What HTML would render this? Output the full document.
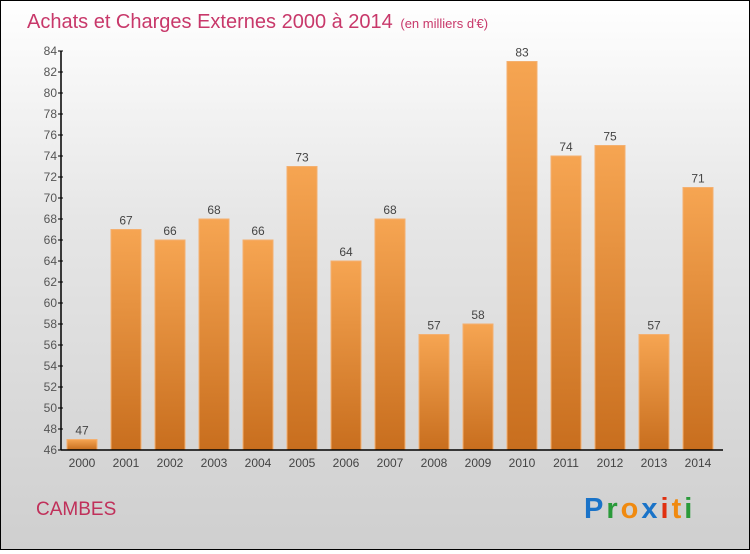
<!DOCTYPE html>
<html><head><meta charset="utf-8"><style>
body{margin:0;width:750px;height:550px;overflow:hidden}
#c{position:relative;width:748px;height:548px;border:1px solid #000;background:linear-gradient(#fff,#e6e6e6 40%,#cfcfcf);font-family:"Liberation Sans",sans-serif}
</style></head><body>
<div id="c">
<svg width="748" height="548" id="s">
<defs><linearGradient id="g" x1="0" y1="0" x2="0" y2="1"><stop offset="0" stop-color="#f6a552"/><stop offset="1" stop-color="#c86e1e"/></linearGradient></defs>
<text x="26" y="27" font-size="20" fill="#c8386a">Achats et Charges Externes 2000 à 2014 <tspan font-size="13" dx="2">(en milliers d'€)</tspan></text>
<text x="35" y="514" font-size="19" fill="#c0305a">CAMBES</text>
<text x="583" y="517" font-size="29" font-weight="bold" letter-spacing="3"><tspan fill="#1a73c8">P</tspan><tspan fill="#2a9a3a">r</tspan><tspan fill="#f08a10">o</tspan><tspan fill="#1a73c8">x</tspan><tspan fill="#e03010">i</tspan><tspan fill="#f08a10">t</tspan><tspan fill="#2a9a3a">i</tspan></text>
</svg></div>
<script>
const years=["2000","2001","2002","2003","2004","2005","2006","2007","2008","2009","2010","2011","2012","2013","2014"];
const values=[47,67,66,68,66,73,64,68,57,58,83,74,75,57,71];
const yTicks=[46,48,50,52,54,56,58,60,62,64,66,68,70,72,74,76,78,80,82,84];
const ns="http://www.w3.org/2000/svg",s=document.getElementById('s');
const y=v=>449-(v-46)*399/38, x=i=>81+i*44;
function mk(t,a,txt){const e=document.createElementNS(ns,t);for(const k in a)e.setAttribute(k,a[k]);if(txt!=null)e.textContent=txt;s.appendChild(e);return e;}
values.forEach((v,i)=>{
 const r=mk('rect',{x:x(i)-15,y:y(v),width:30,height:y(46)-y(v),fill:'url(#g)',stroke:'#f4b070','stroke-width':1});
 
 
 const t=mk('text',{x:x(i),y:y(v)-5,'font-size':12,fill:'#444','text-anchor':'middle'},v);
 
 
 const l=mk('text',{x:x(i),y:466,'font-size':12,fill:'#444','text-anchor':'middle'},years[i]);
 
 
});
yTicks.forEach(v=>{
 mk('line',{x1:57,x2:62,y1:y(v),y2:y(v),stroke:'#000'});
 const t=mk('text',{x:56,y:y(v)+4,'font-size':12,fill:'#555','text-anchor':'end'},v);
 
 
});
const ya=mk('line',{x1:60,x2:60,y1:y(84),y2:y(46),stroke:'#000','stroke-width':1.5});


const xa=mk('line',{x1:60,x2:722,y1:y(46),y2:y(46),stroke:'#000','stroke-width':1.5});


</script>
</body></html>
